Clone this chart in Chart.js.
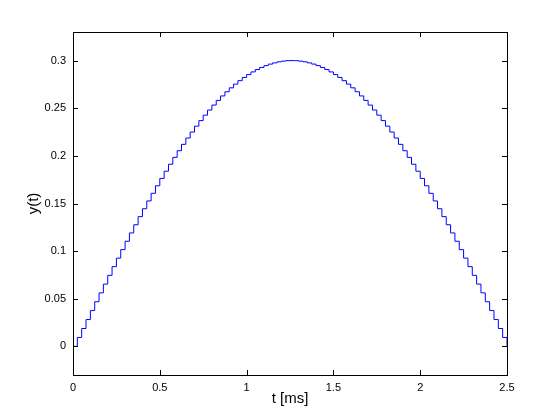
<!DOCTYPE html>
<html>
<head>
<meta charset="utf-8">
<script src="https://cdn.jsdelivr.net/npm/chart.js@4"></script>
<style>
  html, body { margin: 0; padding: 0; background: #fff; }
  #wrap { width: 560px; height: 420px; }
</style>
</head>
<body>
<div id="wrap"><canvas id="stepChart" width="560" height="420"></canvas></div>
<script>
// sample times in ms
const tValues = [
  0, 0.025, 0.05, 0.075, 0.1, 0.125, 0.15, 0.175, 0.2, 0.225,
  0.25, 0.275, 0.3, 0.325, 0.35, 0.375, 0.4, 0.425, 0.45, 0.475,
  0.5, 0.525, 0.55, 0.575, 0.6, 0.625, 0.65, 0.675, 0.7, 0.725,
  0.75, 0.775, 0.8, 0.825, 0.85, 0.875, 0.9, 0.925, 0.95, 0.975,
  1, 1.025, 1.05, 1.075, 1.1, 1.125, 1.15, 1.175, 1.2, 1.225,
  1.25, 1.275, 1.3, 1.325, 1.35, 1.375, 1.4, 1.425, 1.45, 1.475,
  1.5, 1.525, 1.55, 1.575, 1.6, 1.625, 1.65, 1.675, 1.7, 1.725,
  1.75, 1.775, 1.8, 1.825, 1.85, 1.875, 1.9, 1.925, 1.95, 1.975,
  2, 2.025, 2.05, 2.075, 2.1, 2.125, 2.15, 2.175, 2.2, 2.225,
  2.25, 2.275, 2.3, 2.325, 2.35, 2.375, 2.4, 2.425, 2.45, 2.475,
  2.5
];

// y(t)
const yValues = [
  0, 0.0094, 0.0188, 0.0282, 0.0376, 0.0469, 0.0562, 0.0654, 0.0746, 0.0837,
  0.0927, 0.1016, 0.1104, 0.1191, 0.1277, 0.1362, 0.1445, 0.1527, 0.1607, 0.1686,
  0.1763, 0.1839, 0.1912, 0.1984, 0.2054, 0.2121, 0.2187, 0.2250, 0.2312, 0.2370,
  0.2427, 0.2481, 0.2533, 0.2582, 0.2629, 0.2673, 0.2714, 0.2753, 0.2789, 0.2823,
  0.2853, 0.2881, 0.2906, 0.2928, 0.2947, 0.2963, 0.2976, 0.2987, 0.2994, 0.2999,
  0.3000, 0.2999, 0.2994, 0.2987, 0.2976, 0.2963, 0.2947, 0.2928, 0.2906, 0.2881,
  0.2853, 0.2823, 0.2789, 0.2753, 0.2714, 0.2673, 0.2629, 0.2582, 0.2533, 0.2481,
  0.2427, 0.2370, 0.2312, 0.2250, 0.2187, 0.2121, 0.2054, 0.1984, 0.1912, 0.1839,
  0.1763, 0.1686, 0.1607, 0.1527, 0.1445, 0.1362, 0.1277, 0.1191, 0.1104, 0.1016,
  0.0927, 0.0837, 0.0746, 0.0654, 0.0562, 0.0469, 0.0376, 0.0282, 0.0188, 0.0094,
  0
];

const xTicks = [0, 0.5, 1, 1.5, 2, 2.5];
const yTicks = [0, 0.05, 0.1, 0.15, 0.2, 0.25, 0.3];

const points = tValues.map((t, i) => ({ x: t, y: yValues[i] }));
const tickFont = { family: "'Liberation Sans', Arial, sans-serif", size: 11 };
const titleFont = { family: "'Liberation Sans', Arial, sans-serif", size: 15 };

// MATLAB style box with inward tick marks on all four sides
const boxPlugin = {
  id: 'boxTicks',
  afterDraw(chart) {
    const { ctx, chartArea: a, scales } = chart;
    const len = 5;
    ctx.save();
    ctx.strokeStyle = '#000';
    ctx.lineWidth = 1;
    ctx.beginPath();
    scales.x.ticks.forEach(tk => {
      const px = Math.round(scales.x.getPixelForValue(tk.value)) + 0.5;
      ctx.moveTo(px, a.bottom); ctx.lineTo(px, a.bottom - len);
      ctx.moveTo(px, a.top); ctx.lineTo(px, a.top + len);
    });
    scales.y.ticks.forEach(tk => {
      const py = Math.round(scales.y.getPixelForValue(tk.value)) + 0.5;
      ctx.moveTo(a.left, py); ctx.lineTo(a.left + len, py);
      ctx.moveTo(a.right, py); ctx.lineTo(a.right - len, py);
    });
    ctx.stroke();
    ctx.strokeRect(Math.round(a.left) + 0.5, Math.round(a.top) + 0.5,
      Math.round(a.right - a.left), Math.round(a.bottom - a.top));
    ctx.restore();
  }
};

new Chart(document.getElementById('stepChart').getContext('2d'), {
  type: 'line',
  data: {
    datasets: [{
      data: points,
      borderColor: '#0000ff',
      borderWidth: 1,
      pointRadius: 0,
      stepped: 'before',
      fill: false
    }]
  },
  options: {
    responsive: false,
    animation: false,
    layout: { padding: { top: 32, right: 53, left: 0, bottom: 0 } },
    plugins: { legend: { display: false }, tooltip: { enabled: false } },
    scales: {
      x: {
        type: 'linear',
        min: 0,
        max: 2.5,
        afterBuildTicks: s => { s.ticks = xTicks.map(v => ({ value: v })); },
        afterFit: s => { s.height = 45; },
        grid: { display: false, drawTicks: false },
        border: { display: false },
        ticks: { color: '#000', font: tickFont, padding: 6, maxRotation: 0,
                 callback: v => String(v) },
        title: { display: true, text: 't [ms]', color: '#000', font: titleFont,
                 padding: { top: 0, bottom: 12 } }
      },
      y: {
        type: 'linear',
        min: -0.03,
        max: 0.33,
        afterBuildTicks: s => { s.ticks = yTicks.map(v => ({ value: v })); },
        afterFit: s => { s.width = 73; },
        grid: { display: false, drawTicks: false },
        border: { display: false },
        ticks: { color: '#000', font: tickFont, padding: 7,
                 callback: v => String(v) },
        title: { display: true, text: 'y(t)', color: '#000', font: titleFont,
                 padding: { top: 25, bottom: 0 } }
      }
    }
  },
  plugins: [boxPlugin]
});
</script>
</body>
</html>
